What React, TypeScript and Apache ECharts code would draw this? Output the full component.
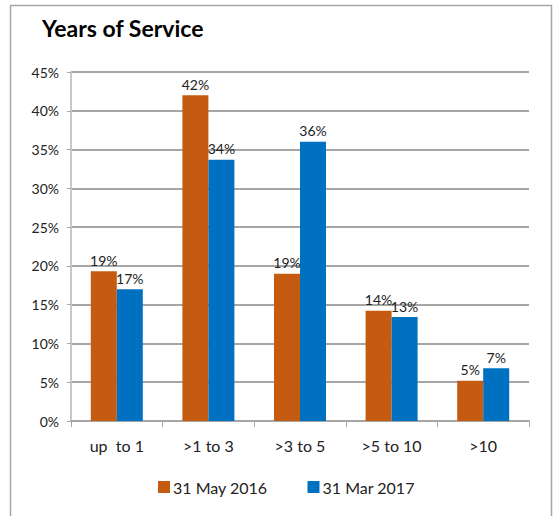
import React, { useEffect, useRef } from "react";
import * as echarts from "echarts";

const categories = ["up  to 1", ">1 to 3", ">3 to 5", ">5 to 10", ">10"];
const seriesNames = ["31 May 2016", "31 Mar 2017"];
const may2016 = [19.3, 42.0, 19.0, 14.2, 5.2];
const mar2017 = [17.0, 33.7, 36.0, 13.4, 6.8];
const yTicks = [0, 5, 10, 15, 20, 25, 30, 35, 40, 45];

const FONT = "Lato, 'Open Sans', sans-serif";

export default function App() {
  const ref = useRef<HTMLDivElement>(null);
  useEffect(() => {
    const chart = echarts.init(ref.current!, null, { renderer: "svg" });
    const label = {
      show: true,
      position: "top",
      distance: 4,
      color: "#222",
      fontSize: 14,
      fontFamily: FONT,
      formatter: (p: any) => Math.round(p.value) + "%",
    };
    chart.setOption({
      animation: false,
      backgroundColor: "#fff",
      title: {
        text: "Years of Service",
        left: 37,
        top: 11,
        textStyle: { fontSize: 23, fontWeight: "bold", color: "#000", fontFamily: FONT },
      },
      graphic: [
        {
          type: "rect",
          shape: { x: 10.5, y: 5.5, width: 541, height: 530 },
          style: { fill: "none", stroke: "#a6a6a6", lineWidth: 1.5 },
          silent: true,
          z: -1,
        },
      ],
      legend: {
        data: seriesNames,
        bottom: 16,
        left: 153,
        itemWidth: 12,
        itemHeight: 12,
        itemGap: 40,
        icon: "rect",
        textStyle: { fontSize: 16, color: "#222", fontFamily: FONT, padding: [0, 0, 0, -2] },
      },
      grid: { left: 71, right: 26, top: 72, bottom: 95, containLabel: false },
      xAxis: {
        type: "category",
        data: categories,
        axisLine: { show: true, lineStyle: { color: "#a6a6a6", width: 2 } },
        axisTick: { show: true, length: 6, lineStyle: { color: "#a6a6a6" } },
        axisLabel: { fontSize: 16, color: "#222", margin: 16, fontFamily: FONT },
      },
      yAxis: {
        type: "value",
        min: 0,
        max: 45,
        interval: 5,
        axisLine: { show: true, lineStyle: { color: "#c8c8c8", width: 2 } },
        axisTick: { show: true, length: 4, lineStyle: { color: "#a6a6a6" } },
        axisLabel: {
          fontSize: 14,
          color: "#222",
          margin: 12,
          fontFamily: FONT,
          formatter: (v: number) => (yTicks.includes(v) ? v + "%" : ""),
        },
        splitLine: { show: true, lineStyle: { color: "#a6a6a6", width: 2 } },
      },
      series: [
        {
          name: seriesNames[0],
          type: "bar",
          data: may2016,
          barWidth: 26,
          barGap: "0%",
          itemStyle: { color: "#C55A11" },
          label,
        },
        {
          name: seriesNames[1],
          type: "bar",
          data: mar2017,
          barWidth: 26,
          itemStyle: { color: "#0070C0" },
          label,
        },
      ],
    });
    return () => chart.dispose();
  }, []);
  return (
    <div
      ref={ref}
      style={{ position: "absolute", left: 0, top: 0, width: 555, height: 516 }}
    />
  );
}
